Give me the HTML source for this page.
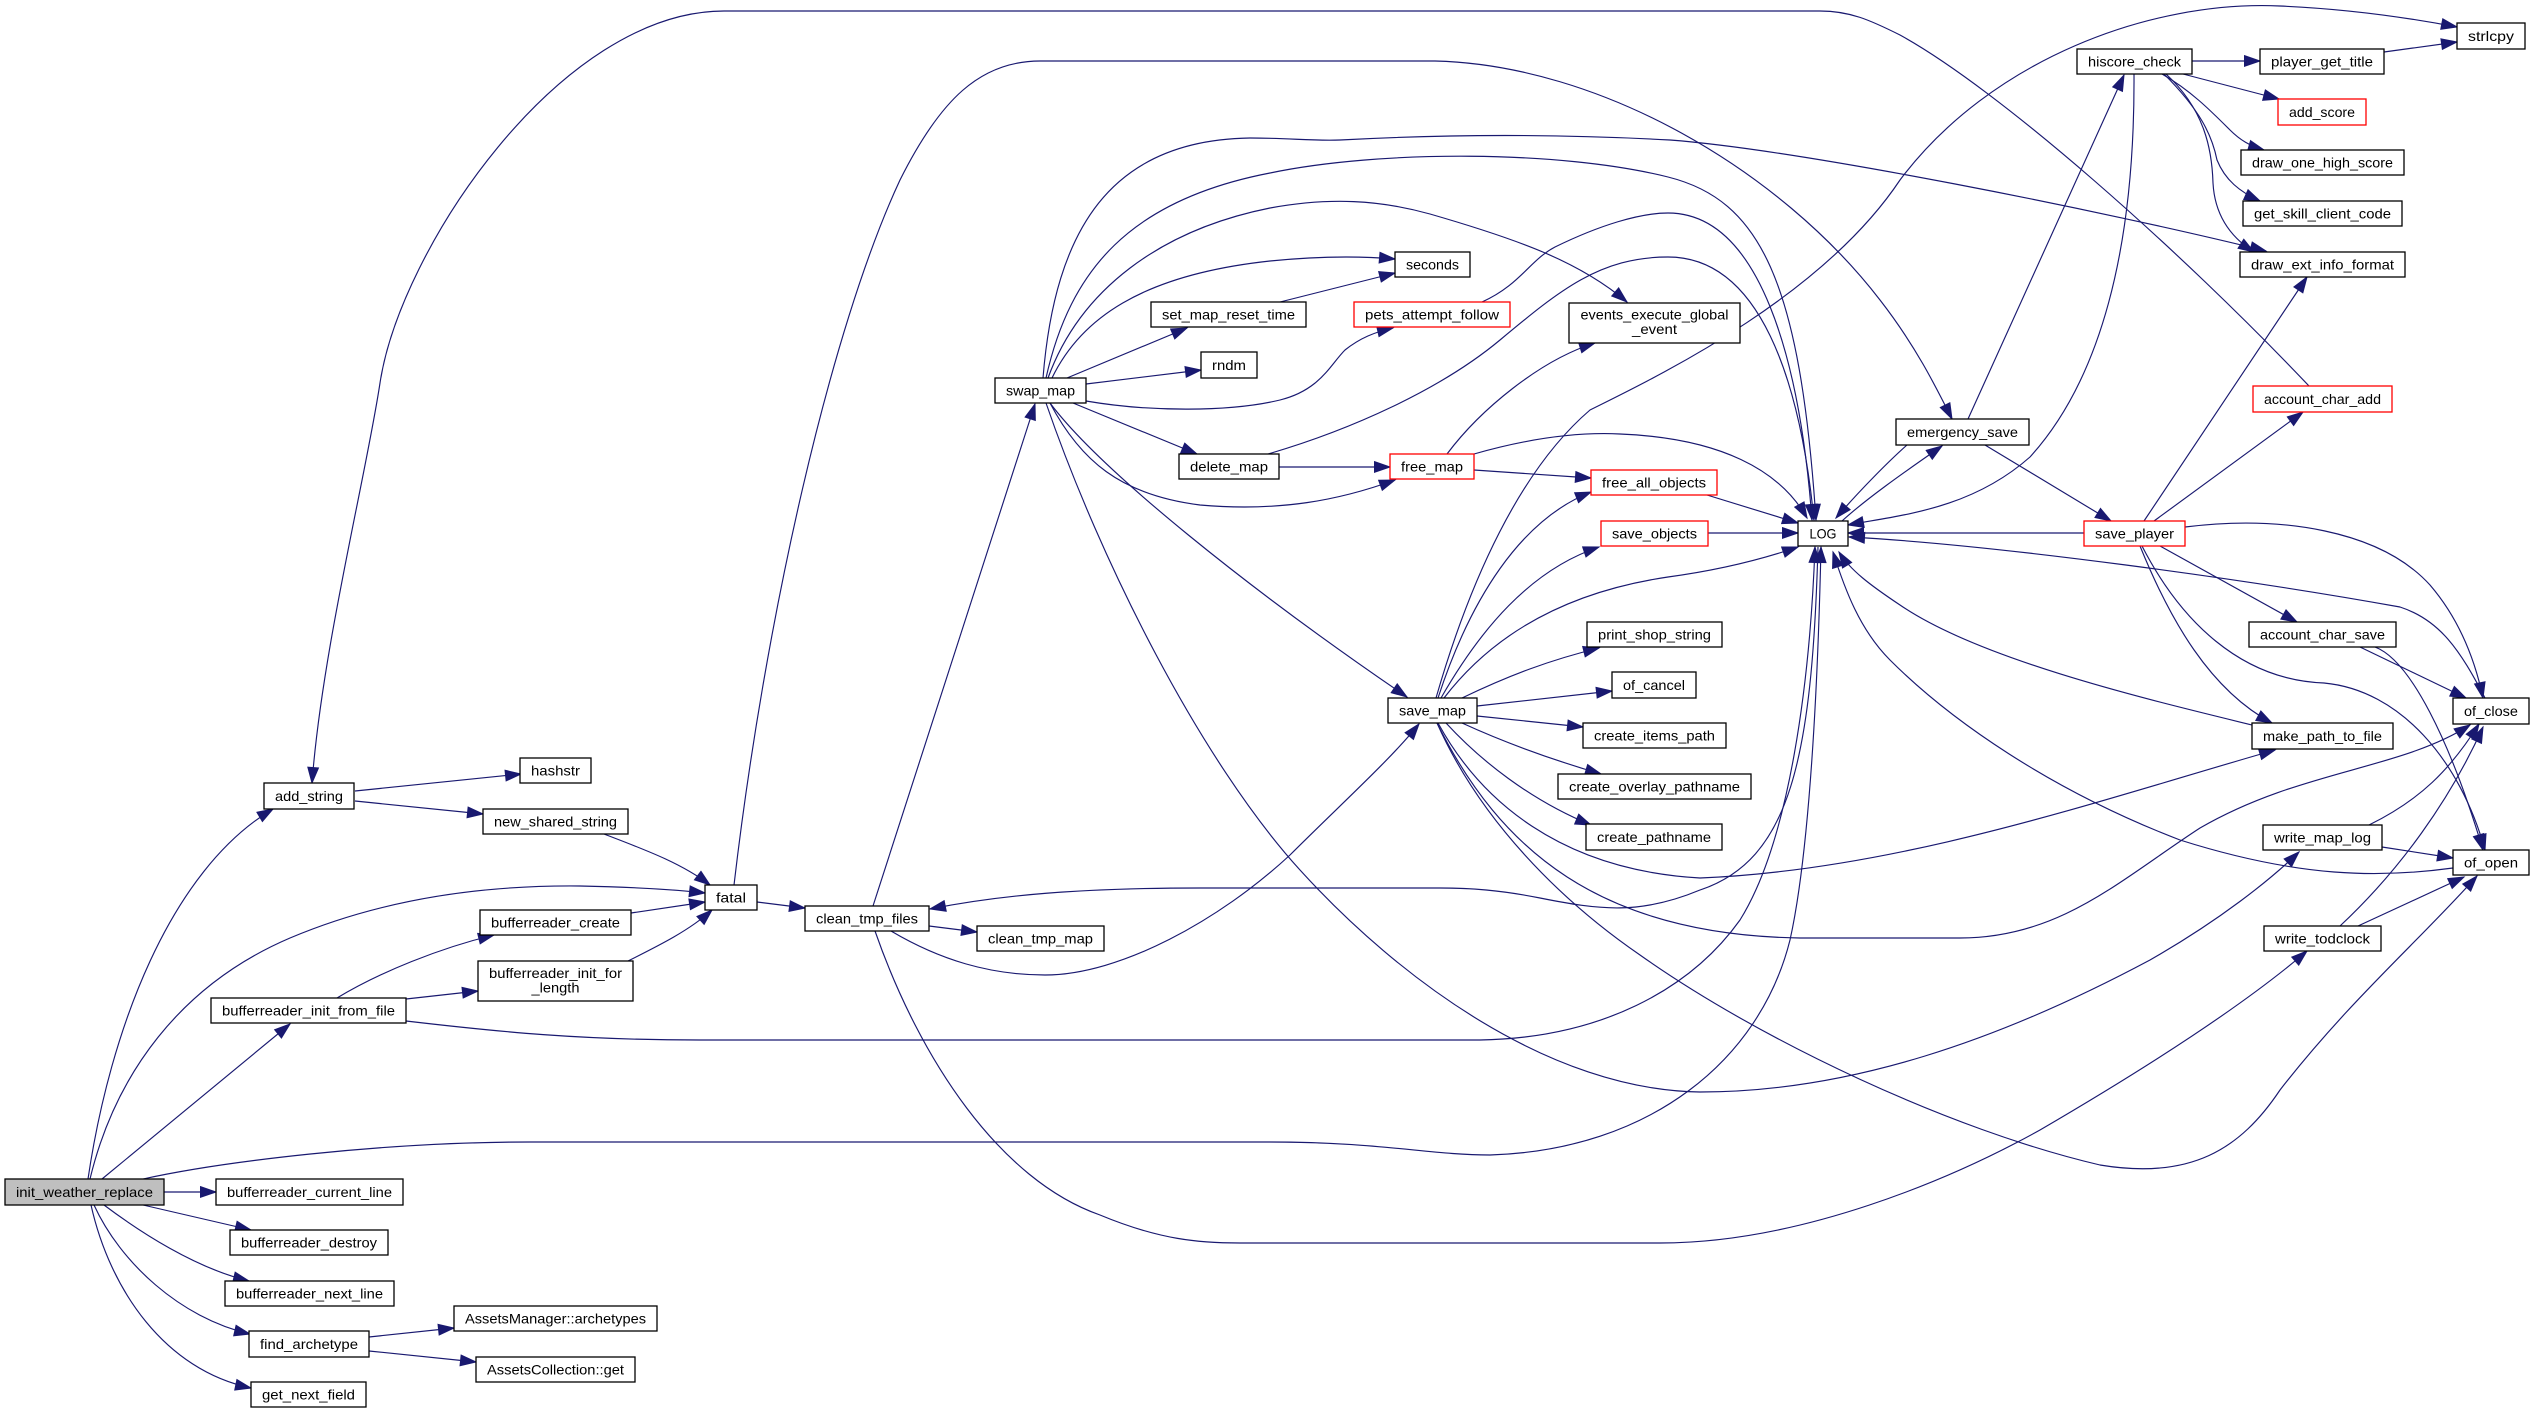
<!DOCTYPE html>
<html><head><meta charset="utf-8"><style>
html,body{margin:0;padding:0;background:#fff;}
svg{display:block;}
text{font-family:"Liberation Sans",Arial,sans-serif;font-size:14px;fill:#000;}
</style></head><body>
<svg width="2535" height="1414" viewBox="0 0 2535 1414" xmlns="http://www.w3.org/2000/svg">
<defs>
<marker id="a" markerUnits="userSpaceOnUse" markerWidth="18" markerHeight="13" refX="15.5" refY="5.35" orient="auto" overflow="visible">
<path d="M0,0 L15.5,5.35 L0,10.7 z" fill="#191970" stroke="#191970" stroke-width="1"/>
</marker>
</defs>
<rect width="2535" height="1414" fill="#fff"/>
<g fill="none" stroke="#191970" stroke-width="1.15" marker-end="url(#a)">
<path d="M88,1179 C110,1030 170,870 273,809"/>
<path d="M90,1179 C115,1075 180,985 290,938 C380,900 480,885 580,886 C630,887 670,889 705,893"/>
<path d="M102,1179 L290,1024"/>
<path d="M143,1179 C220,1162 380,1142 530,1142 L1270,1142 C1380,1142 1430,1155 1490,1155 C1650,1150 1760,1060 1790,940 C1810,850 1818,680 1821,547"/>
<path d="M164,1192 L216,1192"/>
<path d="M143,1205 L251,1230"/>
<path d="M104,1205 C140,1232 195,1268 249,1281"/>
<path d="M94,1205 C120,1262 180,1318 250,1334"/>
<path d="M91,1205 C110,1290 165,1370 251,1388"/>
<path d="M369,1337 L454,1328"/>
<path d="M369,1351 L476,1362"/>
<path d="M355,791 L521,774"/>
<path d="M355,801 L483,814"/>
<path d="M604,834 C640,848 680,862 710,885"/>
<path d="M631,913 L705,902"/>
<path d="M628,961 C660,945 690,930 712,910"/>
<path d="M337,998 C380,972 440,948 494,935"/>
<path d="M406,999 L478,991"/>
<path d="M406,1021 C500,1032 580,1040 700,1040 L1480,1040 C1600,1038 1690,990 1740,920 C1790,840 1810,680 1815,547"/>
<path d="M757,902 L805,908"/>
<path d="M734,885 C765,620 830,330 900,180 C940,100 980,61 1040,61 L1435,61 C1600,65 1780,170 1880,300 C1915,345 1935,385 1952,419"/>
<path d="M929,926 L977,932"/>
<path d="M873,906 L1035,404"/>
<path d="M891,931 C940,960 990,975 1045,975 C1120,975 1220,920 1290,855 C1340,805 1390,760 1419,724"/>
<path d="M875,931 C920,1060 1000,1180 1100,1215 C1160,1240 1200,1243 1240,1243 L1660,1243 C1800,1243 1950,1180 2040,1130 C2160,1060 2250,1000 2307,951"/>
<path d="M1818,547 C1812,760 1790,860 1700,890 C1640,915 1600,910 1540,898 C1500,890 1470,888 1440,888 L1200,888 C1080,888 1000,895 930,909"/>
<path d="M1067,378 L1187,328"/>
<path d="M1086,384 L1201,370"/>
<path d="M1086,401 C1150,412 1230,412 1280,400 C1320,390 1330,365 1345,350 C1360,338 1375,332 1393,328"/>
<path d="M1073,403 L1197,454"/>
<path d="M1050,403 C1080,460 1120,495 1200,505 C1280,512 1340,500 1395,480"/>
<path d="M1050,403 C1100,470 1250,590 1407,697"/>
<path d="M1046,403 C1100,560 1200,760 1300,870 C1400,980 1550,1090 1700,1092 C1850,1092 2000,1040 2150,960 C2220,920 2270,880 2299,852"/>
<path d="M1052,378 C1080,320 1140,275 1270,261 C1320,256 1360,256 1395,259"/>
<path d="M1048,378 C1080,290 1160,230 1270,208 C1330,197 1380,200 1430,214 C1520,240 1580,262 1627,302"/>
<path d="M1046,378 C1070,270 1130,200 1270,173 C1380,150 1560,150 1668,177 C1760,200 1800,280 1816,520"/>
<path d="M1043,378 C1055,230 1110,140 1250,138 C1290,138 1310,141 1340,140 C1450,134 1560,134 1670,140 C1800,150 2100,210 2266,251"/>
<path d="M1280,302 L1395,273"/>
<path d="M1482,302 C1520,285 1530,260 1555,247 C1600,225 1640,213 1668,213 C1760,213 1800,360 1812,520"/>
<path d="M1279,467 L1390,467"/>
<path d="M1268,454 C1350,430 1440,390 1500,340 C1560,290 1600,257 1668,257 C1760,257 1800,380 1814,520"/>
<path d="M1447,454 C1480,410 1540,360 1595,343"/>
<path d="M1474,454 C1530,438 1580,432 1620,434 C1720,438 1780,470 1807,518"/>
<path d="M1474,470 L1591,478"/>
<path d="M1707,495 L1798,523"/>
<path d="M1708,533 L1798,533"/>
<path d="M1444,698 C1500,625 1580,590 1668,577 C1720,570 1760,560 1798,547"/>
<path d="M1441,698 C1480,630 1530,570 1599,547"/>
<path d="M1438,698 C1470,600 1520,520 1591,492"/>
<path d="M1436,698 C1470,580 1520,470 1590,410 C1650,380 1820,300 1900,180 C1990,60 2150,0 2280,6 C2350,9 2410,18 2457,27"/>
<path d="M1462,698 C1510,675 1550,660 1599,648"/>
<path d="M1477,706 L1612,691"/>
<path d="M1477,716 L1583,727"/>
<path d="M1462,723 C1510,745 1560,762 1601,774"/>
<path d="M1446,723 C1480,760 1530,800 1591,825"/>
<path d="M1438,723 C1480,800 1560,870 1700,878 C1900,870 2100,800 2275,750"/>
<path d="M1437,723 C1500,850 1600,935 1800,938 L1960,938 C2060,938 2120,880 2200,828 C2300,770 2400,770 2470,725"/>
<path d="M1437,723 C1480,820 1560,900 1640,955 C1760,1040 1950,1130 2100,1165 C2190,1180 2240,1150 2280,1090 C2350,1000 2420,940 2477,876"/>
<path d="M1968,419 L2124,75"/>
<path d="M1985,445 L2111,521"/>
<path d="M1907,445 C1890,460 1860,490 1836,518"/>
<path d="M1842,521 C1865,500 1900,475 1942,446"/>
<path d="M2192,61 L2260,61"/>
<path d="M2183,74 L2279,99"/>
<path d="M2162,74 C2190,90 2210,110 2230,130 C2240,140 2250,146 2264,150"/>
<path d="M2164,74 C2200,110 2212,135 2217,160 C2225,180 2240,192 2260,201"/>
<path d="M2166,74 C2205,110 2212,150 2213,183 C2215,220 2235,240 2254,252"/>
<path d="M2134,74 C2135,250 2100,380 2030,457 C1970,510 1900,515 1848,525"/>
<path d="M2384,52 L2457,42"/>
<path d="M2084,533 L1848,533"/>
<path d="M2154,521 L2303,412"/>
<path d="M2144,521 L2307,277"/>
<path d="M2160,546 L2297,622"/>
<path d="M2140,546 C2170,620 2210,690 2272,723"/>
<path d="M2142,546 C2180,620 2240,680 2324,683 C2400,690 2460,760 2485,850"/>
<path d="M2185,527 C2280,515 2380,530 2430,585 C2460,620 2475,660 2483,698"/>
<path d="M2360,647 L2466,698"/>
<path d="M2375,647 C2410,660 2450,740 2483,850"/>
<path d="M2252,725 C2150,700 1980,660 1900,605 C1870,585 1850,570 1839,552"/>
<path d="M2485,698 C2460,650 2440,620 2400,607 C2250,580 2000,545 1849,537"/>
<path d="M2453,868 C2380,878 2300,878 2180,840 C2050,790 1950,720 1890,660 C1860,630 1845,590 1833,552"/>
<path d="M2369,825 C2420,800 2450,770 2479,724"/>
<path d="M2382,847 L2453,858"/>
<path d="M2340,926 C2400,870 2450,800 2483,727"/>
<path d="M2358,926 L2464,877"/>
<path d="M2309,386 C2180,250 2000,90 1900,35 C1870,20 1850,11 1820,11 L724,11 C560,11 400,250 380,383 C366,476 322,650 312,783"/>
</g>
<g stroke="#000" stroke-width="1.3" fill="#fff">
<rect x="5" y="1179" width="159" height="26" fill="#bfbfbf"/>
<rect x="264" y="783" width="90" height="26"/>
<rect x="520" y="758" width="71" height="25"/>
<rect x="483" y="809" width="145" height="25"/>
<rect x="705" y="885" width="52" height="25"/>
<rect x="480" y="910" width="151" height="25"/>
<rect x="478" y="961" width="155" height="40"/>
<rect x="211" y="998" width="195" height="25"/>
<rect x="805" y="906" width="124" height="25"/>
<rect x="977" y="926" width="127" height="25"/>
<rect x="995" y="378" width="91" height="25"/>
<rect x="1151" y="302" width="155" height="25"/>
<rect x="1201" y="352" width="56" height="26"/>
<rect x="1179" y="454" width="100" height="25"/>
<rect x="1395" y="252" width="75" height="25"/>
<rect x="1354" y="302" width="156" height="25" stroke="#ff0000"/>
<rect x="1569" y="303" width="171" height="40"/>
<rect x="1390" y="454" width="84" height="25" stroke="#ff0000"/>
<rect x="1591" y="470" width="126" height="25" stroke="#ff0000"/>
<rect x="1601" y="521" width="107" height="25" stroke="#ff0000"/>
<rect x="1798" y="521" width="50" height="25"/>
<rect x="1388" y="698" width="89" height="25"/>
<rect x="1587" y="622" width="135" height="25"/>
<rect x="1612" y="672" width="84" height="26"/>
<rect x="1583" y="723" width="143" height="25"/>
<rect x="1558" y="774" width="193" height="25"/>
<rect x="1586" y="824" width="136" height="26"/>
<rect x="1896" y="419" width="133" height="26"/>
<rect x="2077" y="49" width="115" height="25"/>
<rect x="2260" y="49" width="124" height="25"/>
<rect x="2457" y="23" width="68" height="26"/>
<rect x="2278" y="99" width="88" height="26" stroke="#ff0000"/>
<rect x="2241" y="150" width="163" height="25"/>
<rect x="2243" y="201" width="159" height="25"/>
<rect x="2240" y="252" width="165" height="25"/>
<rect x="2253" y="386" width="139" height="26" stroke="#ff0000"/>
<rect x="2084" y="521" width="101" height="25" stroke="#ff0000"/>
<rect x="2249" y="622" width="147" height="25"/>
<rect x="2252" y="723" width="141" height="26"/>
<rect x="2453" y="698" width="76" height="26"/>
<rect x="2263" y="825" width="119" height="25"/>
<rect x="2453" y="850" width="76" height="25"/>
<rect x="2264" y="926" width="117" height="25"/>
<rect x="216" y="1179" width="187" height="26"/>
<rect x="230" y="1230" width="158" height="25"/>
<rect x="225" y="1281" width="169" height="25"/>
<rect x="249" y="1331" width="120" height="26"/>
<rect x="251" y="1382" width="115" height="25"/>
<rect x="454" y="1306" width="203" height="25"/>
<rect x="476" y="1357" width="159" height="25"/>
</g>
<g text-anchor="middle" lengthAdjust="spacingAndGlyphs">
<text x="84.5" y="1197" textLength="137" lengthAdjust="spacingAndGlyphs">init_weather_replace</text>
<text x="309" y="801" textLength="68" lengthAdjust="spacingAndGlyphs">add_string</text>
<text x="555.5" y="775.5" textLength="49" lengthAdjust="spacingAndGlyphs">hashstr</text>
<text x="555.5" y="826.5" textLength="123" lengthAdjust="spacingAndGlyphs">new_shared_string</text>
<text x="731" y="902.5" textLength="30" lengthAdjust="spacingAndGlyphs">fatal</text>
<text x="555.5" y="927.5" textLength="129" lengthAdjust="spacingAndGlyphs">bufferreader_create</text>
<text x="555.5" y="978" textLength="133" lengthAdjust="spacingAndGlyphs">bufferreader_init_for</text>
<text x="555.5" y="992.5" textLength="48" lengthAdjust="spacingAndGlyphs">_length</text>
<text x="308.5" y="1015.5" textLength="173" lengthAdjust="spacingAndGlyphs">bufferreader_init_from_file</text>
<text x="867" y="923.5" textLength="102" lengthAdjust="spacingAndGlyphs">clean_tmp_files</text>
<text x="1040.5" y="943.5" textLength="105" lengthAdjust="spacingAndGlyphs">clean_tmp_map</text>
<text x="1040.5" y="395.5" textLength="69" lengthAdjust="spacingAndGlyphs">swap_map</text>
<text x="1228.5" y="319.5" textLength="133" lengthAdjust="spacingAndGlyphs">set_map_reset_time</text>
<text x="1229" y="370" textLength="34" lengthAdjust="spacingAndGlyphs">rndm</text>
<text x="1229" y="471.5" textLength="78" lengthAdjust="spacingAndGlyphs">delete_map</text>
<text x="1432.5" y="269.5" textLength="53" lengthAdjust="spacingAndGlyphs">seconds</text>
<text x="1432" y="319.5" textLength="134" lengthAdjust="spacingAndGlyphs">pets_attempt_follow</text>
<text x="1654.5" y="319.5" textLength="148" lengthAdjust="spacingAndGlyphs">events_execute_global</text>
<text x="1654.5" y="334" textLength="45" lengthAdjust="spacingAndGlyphs">_event</text>
<text x="1432" y="471.5" textLength="62" lengthAdjust="spacingAndGlyphs">free_map</text>
<text x="1654" y="487.5" textLength="104" lengthAdjust="spacingAndGlyphs">free_all_objects</text>
<text x="1654.5" y="538.5" textLength="85" lengthAdjust="spacingAndGlyphs">save_objects</text>
<text x="1823" y="538.5" textLength="27" lengthAdjust="spacingAndGlyphs">LOG</text>
<text x="1432.5" y="715.5" textLength="67" lengthAdjust="spacingAndGlyphs">save_map</text>
<text x="1654.5" y="639.5" textLength="113" lengthAdjust="spacingAndGlyphs">print_shop_string</text>
<text x="1654" y="690" textLength="62" lengthAdjust="spacingAndGlyphs">of_cancel</text>
<text x="1654.5" y="740.5" textLength="121" lengthAdjust="spacingAndGlyphs">create_items_path</text>
<text x="1654.5" y="791.5" textLength="171" lengthAdjust="spacingAndGlyphs">create_overlay_pathname</text>
<text x="1654" y="842" textLength="114" lengthAdjust="spacingAndGlyphs">create_pathname</text>
<text x="1962.5" y="437" textLength="111" lengthAdjust="spacingAndGlyphs">emergency_save</text>
<text x="2134.5" y="66.5" textLength="93" lengthAdjust="spacingAndGlyphs">hiscore_check</text>
<text x="2322" y="66.5" textLength="102" lengthAdjust="spacingAndGlyphs">player_get_title</text>
<text x="2491" y="41" textLength="46" lengthAdjust="spacingAndGlyphs">strlcpy</text>
<text x="2322" y="117" textLength="66" lengthAdjust="spacingAndGlyphs">add_score</text>
<text x="2322.5" y="167.5" textLength="141" lengthAdjust="spacingAndGlyphs">draw_one_high_score</text>
<text x="2322.5" y="218.5" textLength="137" lengthAdjust="spacingAndGlyphs">get_skill_client_code</text>
<text x="2322.5" y="269.5" textLength="143" lengthAdjust="spacingAndGlyphs">draw_ext_info_format</text>
<text x="2322.5" y="404" textLength="117" lengthAdjust="spacingAndGlyphs">account_char_add</text>
<text x="2134.5" y="538.5" textLength="79" lengthAdjust="spacingAndGlyphs">save_player</text>
<text x="2322.5" y="639.5" textLength="125" lengthAdjust="spacingAndGlyphs">account_char_save</text>
<text x="2322.5" y="741" textLength="119" lengthAdjust="spacingAndGlyphs">make_path_to_file</text>
<text x="2491" y="716" textLength="54" lengthAdjust="spacingAndGlyphs">of_close</text>
<text x="2322.5" y="842.5" textLength="97" lengthAdjust="spacingAndGlyphs">write_map_log</text>
<text x="2491" y="867.5" textLength="54" lengthAdjust="spacingAndGlyphs">of_open</text>
<text x="2322.5" y="943.5" textLength="95" lengthAdjust="spacingAndGlyphs">write_todclock</text>
<text x="309.5" y="1197" textLength="165" lengthAdjust="spacingAndGlyphs">bufferreader_current_line</text>
<text x="309" y="1247.5" textLength="136" lengthAdjust="spacingAndGlyphs">bufferreader_destroy</text>
<text x="309.5" y="1298.5" textLength="147" lengthAdjust="spacingAndGlyphs">bufferreader_next_line</text>
<text x="309" y="1349" textLength="98" lengthAdjust="spacingAndGlyphs">find_archetype</text>
<text x="308.5" y="1399.5" textLength="93" lengthAdjust="spacingAndGlyphs">get_next_field</text>
<text x="555.5" y="1323.5" textLength="181" lengthAdjust="spacingAndGlyphs">AssetsManager::archetypes</text>
<text x="555.5" y="1374.5" textLength="137" lengthAdjust="spacingAndGlyphs">AssetsCollection::get</text>
</g>
</svg>
</body></html>
